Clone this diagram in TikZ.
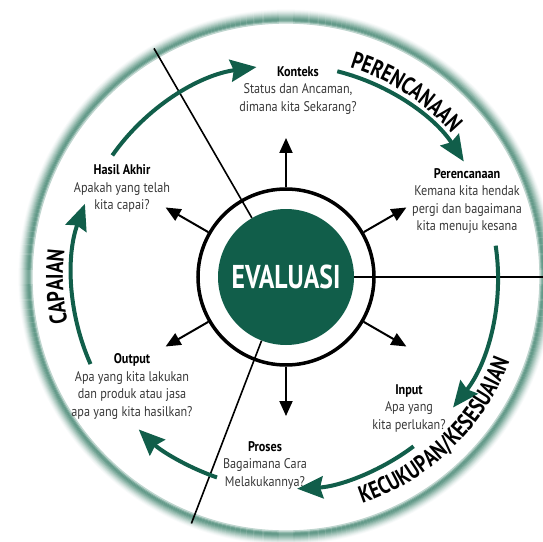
\documentclass[tikz,border=0pt]{standalone}
\usepackage{fontspec}
\setmainfont{PT Sans}
\newfontfamily\condfont[FakeStretch=0.87]{PT Sans}
\newfontfamily\labfont[FakeStretch=0.78]{PT Sans}
\usetikzlibrary{arrows.meta,decorations.text}
\definecolor{evgreen}{RGB}{17,94,74}
\definecolor{bandgreen}{RGB}{70,135,115}
\begin{document}
\begin{tikzpicture}[x=1pt,y=1pt,
  info/.style={align=center, font=\condfont\fontsize{14}{17.5}\selectfont, text=black!78, inner sep=0pt},
  garrow/.style={line width=4pt, evgreen, -{Stealth[length=26pt,width=22pt,inset=3pt]}},
  barrow/.style={line width=2pt, black, -{Triangle[length=15pt,width=13pt]}},
  divider/.style={line width=1.6pt, black},
  biglabel/.style={decorate, decoration={text along path, text align=center, text={|\labfont\bfseries\fontsize{24}{24}\selectfont|#1}}},
]
\useasboundingbox (-286,-264) rectangle (257,277);
% outer shaded band
\foreach \i/\p in {13/3,12/8,11/15,10/23,9/32,8/42,7/52,6/62,5/72,4/80,3/85,2/80,1/62,0/35}
  \draw[line width=1.3pt, bandgreen!\p!white] (0,0) circle ({254+\i});
% centre
\node[circle, draw=black, line width=3.5pt, minimum size=176pt, inner sep=0pt] (ring) at (0,0) {};
\node[circle, fill=evgreen, minimum size=136pt, inner sep=0pt, text=white,
      font=\labfont\bfseries\fontsize{33}{33}\selectfont] (eval) at (0,0) {EVALUASI};
% dividers
\coordinate (d1) at (120:264);
\coordinate (d2) at (0:275);
\coordinate (d3) at (249:264);
\draw[divider] (eval.120) -- (d1);
\draw[divider] (eval.0) -- (d2);
\draw[divider] (eval.249) -- (d3);
% black arrows
\foreach \a in {90,30,-30,-90,210,150}{
  \coordinate (b\a) at (\a:139);
  \draw[barrow] (ring.\a) -- (b\a);
}
% text blocks
\node[info] (konteks) at (12,186.5) {{\color{black}\bfseries Konteks}\\Status dan Ancaman,\\dimana kita Sekarang?};
\node[info] (perenc) at (181,76) {{\color{black}\bfseries Perencanaan}\\Kemana kita hendak\\pergi dan bagaimana\\kita menuju kesana};
\node[info] (hasil) at (-164,88.5) {{\color{black}\bfseries Hasil Akhir}\\Apakah yang telah\\kita capai?};
\node[info] (output) at (-154,-109.5) {{\color{black}\bfseries Output}\\Apa yang kita lakukan\\dan produk atau jasa\\apa yang kita hasilkan?};
\node[info] (input) at (123,-131) {{\color{black}\bfseries Input}\\Apa yang\\kita perlukan?};
\node[info] (proses) at (-21,-188) {{\color{black}\bfseries Proses}\\Bagaimana Cara\\Melakukannya?};
% green cycle arrows
\coordinate (g1) at (145:212);
\coordinate (g2) at (76:212);
\coordinate (g3) at (8.5:212);
\coordinate (g4) at (-53:212);
\coordinate (g5) at (251:212);
\coordinate (g6) at (204:214);
\draw[garrow] (g1) arc[start angle=145, end angle=98, radius=212];
\draw[garrow] (g2) arc[start angle=76, end angle=33, radius=212];
\draw[garrow] (g3) arc[start angle=8.5, end angle=-38, radius=212];
\draw[garrow] (g4) arc[start angle=-53, end angle=-87, radius=212];
\draw[garrow] (g5) arc[start angle=251, end angle=226, radius=212];
\draw[garrow] (g6) arc[start angle=204, end angle=160, radius=214];
% curved labels
\path[biglabel=PERENCANAAN] (95:219) arc[start angle=95, end angle=19, radius=219];
\path[biglabel=CAPAIAN] (210:223) arc[start angle=210, end angle=155, radius=223];
\path[biglabel=KECUKUPAN/KESESUAIAN] (-85:239) arc[start angle=-85, end angle=-7, radius=239];
\end{tikzpicture}
\end{document}
